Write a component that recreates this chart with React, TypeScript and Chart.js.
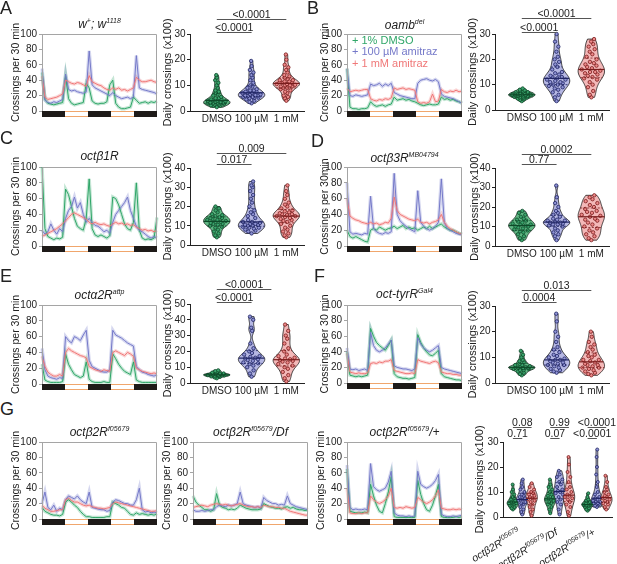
import React, { useEffect, useRef } from 'react';
import { Chart, registerables } from 'chart.js';

Chart.register(...registerables);

const FONT = '"Liberation Sans", Arial, Helvetica, sans-serif';
Chart.defaults.font.family = FONT;
Chart.defaults.color = '#222';

// ---------------- data: activity traces (crossings per 30 min, 1.5 h bins over 60 h) ----------------
const aDmso = [50,15,10,9,8,9,10,11, 46,16,10,8,9,10,11,36, 30,13,10,9,10,10,12,34, 40,10,5,3,3,4,5,18, 14,10,11,12,10,12,11,13];
const aLow = [55,14,11,10,12,11,13,15, 48,28,26,27,25,24,23,25, 78,34,30,28,26,24,22,20, 24,20,18,16,17,18,16,18, 72,30,28,27,26,25,24,22];
const aHigh = [45,18,15,16,17,18,20,22, 40,38,36,35,37,36,34,32, 46,38,36,34,33,30,28,27, 30,28,30,27,28,26,28,30, 44,40,38,38,39,40,38,37];

const bDmso = [55,5,3,3,2,3,3,4, 12,8,6,7,8,6,8,9, 18,14,15,16,14,15,13,12, 10,8,7,8,9,8,8,9, 18,15,16,14,15,13,12,10];
const bLow = [55,20,19,21,20,19,20,21, 35,33,34,36,32,35,33,36, 24,22,20,19,18,17,16,16, 36,40,41,42,40,39,41,38, 22,19,18,17,16,14,12,10];
const bHigh = [30,25,26,27,26,27,28,28, 16,14,13,15,14,16,15,17, 30,28,29,30,28,29,28,27, 12,10,11,10,12,22,12,13, 28,25,24,26,25,27,25,26];

const cDmso = [100,22,12,10,8,10,9,11, 72,65,50,35,25,22,20,35, 85,22,14,12,14,12,10,13, 62,60,52,40,28,22,20,30, 80,20,10,8,9,8,10,36];
const cLow = [20,15,18,28,20,15,22,18, 35,45,50,62,48,55,40,30, 35,30,26,25,22,18,20,16, 30,40,45,50,55,62,45,35, 25,20,18,15,12,10,12,10];
const cHigh = [12,14,16,18,20,22,25,28, 32,36,40,42,40,38,36,34, 30,28,30,28,27,28,26,25, 28,30,28,29,27,28,26,27, 24,22,20,21,19,20,18,20];

const dDmso = [20,12,10,12,10,8,6,5, 20,22,20,24,22,20,22,23, 25,22,24,26,22,24,22,23, 20,22,24,22,25,22,24,26, 28,24,22,20,20,18,16,15];
const dLow = [80,18,15,16,15,14,16,15, 63,22,18,16,15,17,16,18, 92,40,32,28,25,22,20,18, 70,30,25,22,20,22,25,30, 85,30,22,20,18,16,15,14];
const dHigh = [60,38,35,33,32,30,29,28, 30,28,29,27,28,30,29,35, 62,45,40,38,36,34,33,32, 34,30,29,30,28,30,31,33, 40,30,25,22,20,18,16,15];

const eDmso = [25,5,3,2,2,2,2,3, 38,25,18,12,10,8,10,28, 6,3,2,2,2,3,2,2, 38,32,25,20,16,14,12,28, 5,3,2,2,2,2,2,2];
const eLow = [45,18,10,8,7,6,8,7, 60,55,52,60,58,55,62,68, 30,22,20,18,16,15,15,18, 68,62,60,58,55,52,50,48, 22,18,15,14,12,11,10,12];
const eHigh = [35,22,15,12,10,10,12,10, 40,45,42,40,38,36,35,33, 22,20,18,17,16,18,17,16, 40,42,40,38,36,40,38,35, 20,18,16,15,14,13,14,13];

const fDmso = [40,10,9,8,9,8,9,10, 70,60,52,48,45,42,48,55, 12,8,7,6,6,5,6,7, 62,52,45,40,36,35,38,42, 12,8,7,6,5,4,4,3];
const fLow = [45,18,17,18,16,17,18,16, 65,48,42,40,42,45,50,55, 22,20,19,18,18,17,16,18, 58,50,45,42,40,42,45,48, 20,18,17,16,15,14,13,12];
const fHigh = [38,14,13,12,13,12,12,13, 25,26,25,27,26,28,28,30, 16,15,14,13,12,12,13,12, 30,28,27,26,25,27,28,26, 14,13,12,12,11,11,10,10];

const g1Dmso = [15,10,8,6,5,5,4,6, 22,25,22,18,15,10,6,3, 3,2,2,2,2,2,3,3, 22,20,18,15,14,10,6,5, 8,6,7,6,5,6,5,7];
const g1Low = [20,35,15,12,18,10,14,12, 25,30,28,26,30,25,22,20, 35,15,14,13,12,12,10,11, 22,25,24,22,20,20,18,18, 25,40,12,9,10,8,9,8];
const g1High = [18,14,12,10,10,11,12,12, 25,27,24,22,22,20,18,17, 18,16,15,14,14,13,14,15, 20,22,21,20,19,18,17,16, 15,14,13,12,11,10,10,11];

const g2Dmso = [30,22,18,15,12,12,10,12, 33,18,15,14,12,13,12,14, 18,16,14,13,12,12,12,13, 20,18,16,15,14,14,13,15, 16,14,15,13,12,12,11,12];
const g2Low = [12,10,10,11,10,11,12,12, 16,18,17,16,18,17,18,20, 35,20,18,17,16,15,16,14, 28,24,22,20,20,18,19,18, 30,20,18,16,15,14,13,12];
const g2High = [15,16,17,18,17,16,18,19, 20,19,18,19,18,17,18,19, 20,18,17,16,16,15,16,15, 18,17,16,16,15,15,14,14, 12,10,9,8,7,6,5,5];

const g3Dmso = [65,10,9,8,8,8,9,8, 45,30,18,10,8,20,35,55, 3,2,2,2,2,2,2,2, 50,32,20,12,10,18,30,45, 3,2,2,2,2,3,2,3];
const g3Low = [70,15,12,13,12,12,13,12, 72,42,38,36,38,40,48,62, 8,5,4,4,3,4,3,4, 62,45,42,40,42,45,50,58, 6,4,3,3,4,3,4,5];
const g3High = [40,8,7,7,8,7,8,8, 30,25,22,20,22,25,30,40, 15,14,15,14,16,15,14,15, 28,25,22,20,22,25,30,38, 14,13,12,12,13,12,13,12];

// ---------------- data: daily crossings (x100), individual flies ----------------
const aDmsoDaily = [1.5,2,2,2.2,2.5,2.5,2.8,3,3,3,3.2,3.3,3.5,3.5,3.8,4,4,4.2,4.5,4.5,5,5,5.5,6,6.5,7,7.5,8,9,10,11,12,13,14];
const aLowDaily = [3,3.5,4,4.5,5,5,5.2,5.5,5.5,5.8,6,6,6.2,6.5,6.5,7,7,7.2,7.5,7.5,8,8,8.5,9,9.5,10,11,12,13,14,15,16,17.5,19.5];
const aHighDaily = [4,5,5.5,6,7,7.5,8,8.5,9,9,9.5,9.5,10,10,10.2,10.5,10.5,11,11,11.2,11.5,11.5,12,12,12.5,13,13.5,14,15,16,17,18,20,22];

const bDmsoDaily = [3.5,4,4.2,4.5,4.8,5,5,5.2,5.3,5.5,5.5,5.7,5.8,6,6,6,6.2,6.3,6.5,6.5,6.7,6.8,7,7,7.2,7.5,7.8,8,8.5];
const bLowDaily = [3.5,5,6,7,8,8.5,9,9.5,10,10,10.5,11,11,11.5,12,12,12.5,13,13,13.5,14,14.5,15,16,17,18,19,20,21,23,25,27,30];
const bHighDaily = [5,6,7.5,9,10,11,12,12.5,13,13.5,14,14.5,15,15,15.5,16,16.5,17,17.5,18,18.5,19,20,21,22,23,24,25,26,27,28];

const cDmsoDaily = [4,5,6,7,8,9,9.5,10,10.5,11,11,11.5,12,12,12.5,13,13,13.5,14,14,14.5,15,15.5,16,17,18,19,20];
const cLowDaily = [6,7,7.5,8,8.5,9,9,9.5,10,10,10.5,10.5,11,11,11.5,12,12,13,14,15,16,17,18,20,22,24,26,28,30,31,33];
const cHighDaily = [4,5,6,7,8,9,10,11,12,12.5,13,13.5,14,14.5,15,15,15.5,16,16,16.5,17,17.5,18,19,20,21,22,24,26,28,31];

const dDmsoDaily = [3,4,5,6,7,7.5,8,8.5,9,9.5,10,10,10.5,11,11,11.5,12,12.5,13,13.5,14,15,16,17,18];
const dLowDaily = [3,5,6,7,8,9,10,10.5,11,11,11.5,12,12,12.5,13,13,13.5,14,15,16,17,18,20,22,25,31];
const dHighDaily = [3,4,5,6,7,8,9,10,11,12,13,13.5,14,15,15.5,16,17,17.5,18,19,20,21,22,23,24,25,26];

const eDmsoDaily = [3,3.5,4,4.2,4.5,4.5,4.8,5,5,5.2,5.5,5.5,5.8,6,6,6.5,7,7.5,8];
const eLowDaily = [4,6,8,10,11,12,12.5,13,14,14.5,15,15.5,16,16.5,17,18,19,20,22,25,33,35,40,42];
const eHighDaily = [1,3,5,7,9,10,11,12,13,13.5,14,14.5,15,15.5,16,17,18,20,22,25,28,30,33,37];

const fDmsoDaily = [3,3.5,4,4.5,5,5,5.5,5.5,5.8,6,6,6,6.2,6.5,6.5,7,7,7.5,8,8.5,9,10,11,12.5];
const fLowDaily = [4,4.5,5,5.5,6,6.5,7,7,7.5,8,8,8.5,9,9,9.5,10,10.5,11,12,13,14,16,18,20,24,27];
const fHighDaily = [3,3.5,4,4.5,5,5.5,6,6,6.5,7,7,7.5,8,8.5,9,9,10,10.5,11,12,13,14,15,16,18,20];

const g1DmsoDaily = [3,3.5,4,4.5,5,5,5.5,5.5,6,6,6.5,7,7.5,8,9,10,11,13];
const g1LowDaily = [1,2,3,4,5,5.5,6,6.5,7,7,7.5,8,8.5,9,10,11,12,13.5,15];
const g1HighDaily = [0.5,2,3,4,5,6,6.5,7,7.5,8,8.5,9,9.5,10,11,12,13.5];
const g2DmsoDaily = [1.5,3,4,5,5.5,6,6.5,7,7,7.5,8,8.5,9,10,11,12,13,15];
const g2LowDaily = [1,3,5,6,7,8,9,9.5,10,10.5,11,12,13,14,15,16,17,18.5];
const g2HighDaily = [0.5,2,4,5,6,7,7.5,8,8.5,9,10,11,12,14,16,18,21,24];
const g3DmsoDaily = [2.5,3,3.5,4,4.5,4.5,5,5,5.5,5.5,6,6.5,7,8,9.5];
const g3LowDaily = [4,4.5,5,5.5,5.5,6,6,6.5,7,7.5,8,9,10,12,14,17,20,24,27];
const g3HighDaily = [3,4,5,5.5,6,6.5,7,7.5,8,8.5,9,10,11,12,14,16.5];

// ---------------- labels ----------------
const LIGHT_DARK = ['dark', 'light', 'dark', 'light', 'dark'];
const TREATMENTS = ['1% DMSO', '100 µM amitraz', '1 mM amitraz'];
const DOSE_LABELS = ['DMSO', '100 µM', '1 mM'];
const P_A = ['<0.0001', '<0.0001'];
const P_B = ['<0.0001', '<0.0001'];
const P_C = ['0.009', '0.017'];
const P_D = ['0.0002', '0.77'];
const P_E = ['<0.0001', '<0.0001'];
const P_F = ['0.013', '0.0004'];
const P_G = ['0.08', '0.71', '0.99', '0.07', '<0.0001', '<0.0001'];
const G_GENOTYPES: [string, boolean][][] = [
  [['octβ2R', false], ['f05679', true]],
  [['octβ2R', false], ['f05679', true], ['/Df', false]],
  [['octβ2R', false], ['f05679', true], ['/+', false]],
];

// ---------------- styles ----------------
const SERIES_COLORS = ['#2fa668', '#7579c9', '#f07878'];
const BAND_COLORS = ['rgba(47,166,104,0.28)', 'rgba(117,121,201,0.3)', 'rgba(240,120,120,0.3)'];
const VIOLIN_STYLE = [
  { fill: 'rgba(70,172,112,0.85)', dot: '#3ba56d', edge: '#0e4a29' },
  { fill: '#b5b7e3', dot: '#8f93d4', edge: '#1d2262' },
  { fill: '#f3b8b8', dot: '#ee8a8a', edge: '#7a1c1c' },
];

type Box = { x: number; y: number; w: number; h: number };

function vdc(n: number) {
  let v = 0, d = 1;
  while (n > 0) { d *= 2; v += (n % 2) / d; n = Math.floor(n / 2); }
  return v;
}

function violinStats(values: number[]) {
  const s = [...values].sort((a, b) => a - b);
  const n = s.length;
  const q = (p: number) => { const i = (n - 1) * p; const lo = Math.floor(i), hi = Math.ceil(i); return s[lo] + (s[hi] - s[lo]) * (i - lo); };
  const mean = s.reduce((a, b) => a + b, 0) / n;
  const sd = Math.sqrt(s.reduce((a, b) => a + (b - mean) ** 2, 0) / (n - 1));
  const iqr = q(0.75) - q(0.25);
  const spread = Math.min(sd, iqr > 0 ? iqr / 1.34 : sd);
  const h = 0.9 * spread * Math.pow(n, -0.2) * 0.8;
  const lo = s[0], hi = s[n - 1];
  const K = 60;
  const ys: number[] = [], ds: number[] = [];
  for (let k = 0; k <= K; k++) {
    const y = lo + ((hi - lo) * k) / K;
    let d = 0;
    s.forEach((v) => { d += Math.exp(-0.5 * ((y - v) / h) ** 2); });
    ys.push(y); ds.push(d);
  }
  const mx = Math.max(...ds);
  for (let k = 0; k <= K; k++) ds[k] /= mx;
  const densAt = (y: number) => {
    if (hi === lo) return 1;
    const f = ((y - lo) / (hi - lo)) * K;
    const i = Math.max(0, Math.min(K - 1, Math.floor(f)));
    const t = f - i;
    return ds[i] * (1 - t) + ds[i + 1] * t;
  };
  return { sorted: s, ys, ds, densAt, med: q(0.5), q1: q(0.25), q3: q(0.75) };
}

// ---------------- plugins ----------------
const framePlugin = {
  id: 'frameAndPhotoperiod',
  afterDraw(chart: any) {
    const { ctx, chartArea } = chart;
    const left = Math.round(chartArea.left), top = Math.round(chartArea.top);
    const right = Math.round(chartArea.right), bottom = Math.round(chartArea.bottom);
    ctx.save();
    ctx.strokeStyle = '#a5a5a5';
    ctx.lineWidth = 1;
    ctx.beginPath();
    ctx.moveTo(left + 0.5, bottom);
    ctx.lineTo(left + 0.5, top + 0.5);
    ctx.lineTo(right - 0.5, top + 0.5);
    ctx.lineTo(right - 0.5, bottom);
    ctx.stroke();
    const xs = chart.scales.x;
    const n = LIGHT_DARK.length;
    const y0 = bottom, hgt = 6;
    ctx.fillStyle = '#ffffff';
    ctx.fillRect(left, y0, right - left, hgt);
    ctx.strokeStyle = '#f0a66c';
    ctx.strokeRect(left + 0.5, y0 + 0.5, right - left - 1, hgt - 1);
    LIGHT_DARK.forEach((phase, i) => {
      const x0 = Math.round(xs.getPixelForDecimal(i / n));
      const x1 = Math.round(xs.getPixelForDecimal((i + 1) / n));
      if (phase === 'dark') {
        ctx.fillStyle = '#1e1a18';
        ctx.fillRect(x0, y0, x1 - x0, hgt);
      }
    });
    ctx.restore();
  },
};

const legendPlugin = {
  id: 'inlineLegend',
  afterDraw(chart: any) {
    const { ctx, chartArea } = chart;
    ctx.save();
    ctx.font = `11px ${FONT}`;
    ctx.textBaseline = 'middle';
    ctx.textAlign = 'left';
    TREATMENTS.forEach((t, i) => {
      ctx.fillStyle = SERIES_COLORS[i];
      ctx.fillText('+ ' + t, chartArea.left + 5, chartArea.top + 6.5 + i * 11.5);
    });
    ctx.restore();
  },
};

function sigPlugin(items: { a: number; b: number; dy: number; text: string }[]) {
  return {
    id: 'sigBars',
    afterDraw(chart: any) {
      const { ctx, chartArea, scales } = chart;
      const x = scales.x;
      ctx.save();
      ctx.font = `10.5px ${FONT}`;
      ctx.fillStyle = '#222';
      ctx.strokeStyle = '#555';
      ctx.lineWidth = 1;
      ctx.textAlign = 'center';
      ctx.textBaseline = 'alphabetic';
      items.forEach((it) => {
        const x0 = x.getPixelForValue(it.a), x1 = x.getPixelForValue(it.b);
        const yy = Math.round(chartArea.top + it.dy) + 0.5;
        ctx.beginPath();
        ctx.moveTo(x0, yy);
        ctx.lineTo(x1, yy);
        ctx.stroke();
        ctx.fillText(it.text, (x0 + x1) / 2, yy - 1.5);
      });
      ctx.restore();
    },
  };
}

function violinPlugin(groups: any[], hw: number) {
  return {
    id: 'violins',
    beforeDatasetsDraw(chart: any) {
      const { ctx, scales } = chart;
      const x = scales.x, y = scales.y;
      groups.forEach((g) => {
        const { ys, ds } = g.st;
        ctx.save();
        ctx.beginPath();
        ys.forEach((v: number, k: number) => {
          const px = x.getPixelForValue(g.at + hw * ds[k]);
          const py = y.getPixelForValue(v);
          if (k === 0) ctx.moveTo(px, py); else ctx.lineTo(px, py);
        });
        for (let k = ys.length - 1; k >= 0; k--) {
          ctx.lineTo(x.getPixelForValue(g.at - hw * ds[k]), y.getPixelForValue(ys[k]));
        }
        ctx.closePath();
        ctx.fillStyle = g.style.fill;
        ctx.fill();
        ctx.strokeStyle = '#1a1a1a';
        ctx.lineWidth = 0.8;
        ctx.stroke();
        ctx.restore();
      });
    },
    afterDatasetsDraw(chart: any) {
      const { ctx, scales } = chart;
      const x = scales.x, y = scales.y;
      groups.forEach((g) => {
        const lines = [
          { v: g.st.med, dash: [], w: 1.2 },
          { v: g.st.q1, dash: [2, 1.5], w: 0.8 },
          { v: g.st.q3, dash: [2, 1.5], w: 0.8 },
        ];
        lines.forEach((ln) => {
          const half = hw * g.st.densAt(ln.v);
          ctx.save();
          ctx.strokeStyle = g.style.edge;
          ctx.lineWidth = ln.w;
          ctx.setLineDash(ln.dash);
          ctx.beginPath();
          const py = y.getPixelForValue(ln.v);
          ctx.moveTo(x.getPixelForValue(g.at - half), py);
          ctx.lineTo(x.getPixelForValue(g.at + half), py);
          ctx.stroke();
          ctx.restore();
        });
      });
    },
  };
}

function rotatedLabelPlugin(items: [string, boolean][][], at: number[]) {
  return {
    id: 'rotatedLabels',
    afterDraw(chart: any) {
      const { ctx, chartArea, scales } = chart;
      const x = scales.x;
      const mainFont = `italic 10.5px ${FONT}`;
      const supFont = `italic 7px ${FONT}`;
      items.forEach((parts, i) => {
        const px = x.getPixelForValue(at[i]) - 1;
        const py = chartArea.bottom + 17;
        ctx.save();
        ctx.translate(px, py);
        ctx.rotate((-31 * Math.PI) / 180);
        ctx.fillStyle = '#222';
        ctx.textBaseline = 'alphabetic';
        ctx.textAlign = 'left';
        let total = 0;
        parts.forEach(([t, sup]) => { ctx.font = sup ? supFont : mainFont; total += ctx.measureText(t).width; });
        let cx = -total;
        parts.forEach(([t, sup]) => {
          ctx.font = sup ? supFont : mainFont;
          ctx.fillText(t, cx, sup ? -4.5 : 0);
          cx += ctx.measureText(t).width;
        });
        ctx.restore();
      });
    },
  };
}

// ---------------- chart configs ----------------
type LineSpec = { series: number[][]; area: [number, number, number, number]; titleX: number; yTitle: string; legend?: boolean };

function lineBox(s: LineSpec): Box {
  const [, t, r, b] = s.area;
  const x = s.titleX - 9;
  const y = t - 20;
  return { x, y, w: r + 3 - x, h: b + 14 - y };
}

function lineConfig(s: LineSpec, box: Box) {
  const [l, t, r, b] = s.area;
  const labels = s.series[0].map((_, i) => String(i));
  const datasets: any[] = [];
  s.series.forEach((d, i) => datasets.push({ data: d, borderColor: BAND_COLORS[i], borderWidth: 3.4, pointRadius: 0, tension: 0, order: 10, fill: false }));
  s.series.forEach((d, i) => datasets.push({ label: TREATMENTS[i], data: d, borderColor: SERIES_COLORS[i], borderWidth: 1, pointRadius: 0, tension: 0, order: 3 - i, fill: false }));
  const titleSize = 10.5;
  const pad = s.titleX - box.x - (titleSize * 1.2) / 2;
  const plugins: any[] = [framePlugin];
  if (s.legend) plugins.push(legendPlugin);
  return {
    type: 'line',
    data: { labels, datasets },
    options: {
      responsive: false,
      animation: false,
      events: [],
      layout: { padding: { left: 0, top: t - box.y, right: box.x + box.w - r, bottom: 0 } },
      plugins: { legend: { display: false }, tooltip: { enabled: false } },
      scales: {
        x: {
          display: true,
          offset: false,
          ticks: { display: false },
          grid: { display: false, drawTicks: false },
          border: { display: false },
          afterFit: (sc: any) => { sc.height = box.y + box.h - b; },
        },
        y: {
          min: 0,
          max: 100,
          ticks: { stepSize: 20, font: { size: 10 }, color: '#222', padding: 2 },
          grid: { drawOnChartArea: false, tickLength: 3, color: '#a5a5a5' },
          border: { color: '#a5a5a5' },
          title: { display: true, text: s.yTitle, font: { size: titleSize }, color: '#222', padding: { top: pad, bottom: 0 } },
          afterFit: (sc: any) => { sc.width = l - box.x; },
        },
      },
    },
    plugins,
  };
}

type ViolinSpec = {
  area: [number, number, number, number];
  titleX: number;
  top: number;
  bottom: number;
  xr: [number, number];
  ymax: number;
  groups: { at: number; values: number[]; style: any }[];
  ticksAt: number[];
  tickLabels: string[];
  sig: { a: number; b: number; dy: number; text: string }[];
  hw: number;
  dotR: number;
  rotated?: boolean;
};

function violinBox(s: ViolinSpec): Box {
  const x = s.titleX - 9;
  const right = Math.min(617, s.area[2] + 4);
  return { x, y: s.top, w: right - x, h: s.bottom - s.top };
}

function violinConfig(s: ViolinSpec, box: Box) {
  const [l, t, r, b] = s.area;
  const groups = s.groups.map((g) => ({ ...g, st: violinStats(g.values) }));
  const datasets = groups.map((g) => ({
    data: g.st.sorted.map((v: number, i: number) => ({ x: g.at + (2 * vdc(i + 1) - 1) * s.hw * 0.78 * g.st.densAt(v), y: v })),
    pointRadius: s.dotR,
    backgroundColor: g.style.dot,
    borderColor: g.style.edge,
    borderWidth: 0.8,
    clip: false,
  }));
  const titleSize = 11;
  const pad = s.titleX - box.x - (titleSize * 1.2) / 2;
  const plugins: any[] = [violinPlugin(groups, s.hw), sigPlugin(s.sig)];
  if (s.rotated) plugins.push(rotatedLabelPlugin(G_GENOTYPES, s.ticksAt));
  return {
    type: 'scatter',
    data: { datasets },
    options: {
      responsive: false,
      animation: false,
      events: [],
      layout: { padding: { left: 0, top: t - box.y, right: box.x + box.w - r, bottom: 0 } },
      plugins: { legend: { display: false }, tooltip: { enabled: false } },
      scales: {
        x: {
          type: 'linear',
          min: s.xr[0],
          max: s.xr[1],
          afterBuildTicks: (sc: any) => { sc.ticks = s.ticksAt.map((v) => ({ value: v })); },
          ticks: {
            display: !s.rotated,
            autoSkip: false,
            maxRotation: 0,
            font: { size: 10 },
            color: '#222',
            padding: 2,
            callback: (v: number) => { const i = s.ticksAt.indexOf(v); return i >= 0 ? s.tickLabels[i] : ''; },
          },
          grid: { display: false, drawTicks: false, tickLength: 0 },
          border: { color: '#222' },
          afterFit: (sc: any) => { sc.height = box.y + box.h - b; },
        },
        y: {
          min: 0,
          max: s.ymax,
          ticks: { stepSize: 10, font: { size: 10 }, color: '#222', padding: 1.5 },
          grid: { drawOnChartArea: false, tickLength: 3, color: '#222' },
          border: { color: '#222' },
          title: { display: true, text: 'Daily crossings (x100)', font: { size: titleSize }, color: '#222', padding: { top: pad, bottom: 0 } },
          afterFit: (sc: any) => { sc.width = l - box.x; },
        },
      },
    },
    plugins,
  };
}

// ---------------- panel specs ----------------
const LINE_SPECS: LineSpec[] = [
  { series: [aDmso, aLow, aHigh], area: [42, 34, 157, 111], titleX: 16, yTitle: 'Crossings per 30 min' },
  { series: [bDmso, bLow, bHigh], area: [347, 34, 462, 111], titleX: 325, yTitle: 'Crossings per 30 min', legend: true },
  { series: [cDmso, cLow, cHigh], area: [42, 167, 157, 246], titleX: 16, yTitle: 'Crossings per 30 min' },
  { series: [dDmso, dLow, dHigh], area: [347, 167, 462, 246], titleX: 325, yTitle: 'Crossings per 30min' },
  { series: [eDmso, eLow, eHigh], area: [42, 305, 157, 384], titleX: 16, yTitle: 'Crossings per 30 min' },
  { series: [fDmso, fLow, fHigh], area: [347, 305, 462, 383], titleX: 325, yTitle: 'Crossings per 30 min' },
  { series: [g1Dmso, g1Low, g1High], area: [42, 442, 157, 519], titleX: 16, yTitle: 'Crossings per 30 min' },
  { series: [g2Dmso, g2Low, g2High], area: [193, 442, 308, 519], titleX: 167, yTitle: 'Crossings per 30 min' },
  { series: [g3Dmso, g3Low, g3High], area: [347, 442, 462, 519], titleX: 321, yTitle: 'Crossings per 30 min' },
];

const three = (d: number[], l: number[], h: number[]) => [
  { at: 0, values: d, style: VIOLIN_STYLE[0] },
  { at: 1, values: l, style: VIOLIN_STYLE[1] },
  { at: 2, values: h, style: VIOLIN_STYLE[2] },
];
const XR3: [number, number] = [-0.771, 2.514];

const VIOLIN_SPECS: ViolinSpec[] = [
  { area: [190, 34, 305, 111], titleX: 168, top: 0, bottom: 128, xr: XR3, ymax: 30, groups: three(aDmsoDaily, aLowDaily, aHighDaily), ticksAt: [0, 1, 2], tickLabels: DOSE_LABELS, hw: 0.38, dotR: 1.7,
    sig: [{ a: 0, b: 2, dy: -15, text: P_A[0] }, { a: 0, b: 1, dy: -2, text: P_A[1] }] },
  { area: [495, 34, 610, 110], titleX: 473, top: 0, bottom: 128, xr: XR3, ymax: 30, groups: three(bDmsoDaily, bLowDaily, bHighDaily), ticksAt: [0, 1, 2], tickLabels: DOSE_LABELS, hw: 0.38, dotR: 1.7,
    sig: [{ a: 0, b: 2, dy: -16, text: P_B[0] }, { a: 0, b: 1, dy: -2, text: P_B[1] }] },
  { area: [190, 168, 305, 245], titleX: 168, top: 138, bottom: 264, xr: XR3, ymax: 40, groups: three(cDmsoDaily, cLowDaily, cHighDaily), ticksAt: [0, 1, 2], tickLabels: DOSE_LABELS, hw: 0.38, dotR: 1.7,
    sig: [{ a: 0, b: 2, dy: -15, text: P_C[0] }, { a: 0, b: 1, dy: -4, text: P_C[1] }] },
  { area: [495, 168, 610, 246], titleX: 475, top: 138, bottom: 264, xr: XR3, ymax: 40, groups: three(dDmsoDaily, dLowDaily, dHighDaily), ticksAt: [0, 1, 2], tickLabels: DOSE_LABELS, hw: 0.38, dotR: 1.7,
    sig: [{ a: 0, b: 2, dy: -14, text: P_D[0] }, { a: 0, b: 1, dy: -4, text: P_D[1] }] },
  { area: [190, 304, 305, 383], titleX: 168, top: 276, bottom: 402, xr: XR3, ymax: 50, groups: three(eDmsoDaily, eLowDaily, eHighDaily), ticksAt: [0, 1, 2], tickLabels: DOSE_LABELS, hw: 0.38, dotR: 1.7,
    sig: [{ a: 0, b: 1.57, dy: -15, text: P_E[0] }, { a: 0, b: 1, dy: -2, text: P_E[1] }] },
  { area: [495, 306, 610, 383], titleX: 473, top: 276, bottom: 402, xr: XR3, ymax: 30, groups: three(fDmsoDaily, fLowDaily, fHighDaily), ticksAt: [0, 1, 2], tickLabels: DOSE_LABELS, hw: 0.38, dotR: 1.7,
    sig: [{ a: 0, b: 2, dy: -16, text: P_F[0] }, { a: 0, b: 1, dy: -4, text: P_F[1] }] },
  { area: [503, 442, 613, 517], titleX: 480, top: 412, bottom: 564, xr: [-1.064, 10.64], ymax: 30,
    groups: [
      { at: 0, values: g1DmsoDaily, style: VIOLIN_STYLE[0] },
      { at: 1, values: g1LowDaily, style: VIOLIN_STYLE[1] },
      { at: 2, values: g1HighDaily, style: VIOLIN_STYLE[2] },
      { at: 4, values: g2DmsoDaily, style: VIOLIN_STYLE[0] },
      { at: 5, values: g2LowDaily, style: VIOLIN_STYLE[1] },
      { at: 6, values: g2HighDaily, style: VIOLIN_STYLE[2] },
      { at: 8, values: g3DmsoDaily, style: VIOLIN_STYLE[0] },
      { at: 9, values: g3LowDaily, style: VIOLIN_STYLE[1] },
      { at: 10, values: g3HighDaily, style: VIOLIN_STYLE[2] },
    ],
    ticksAt: [1, 5, 9], tickLabels: ['', '', ''], hw: 0.62, dotR: 1.5, rotated: true,
    sig: [
      { a: 0, b: 2, dy: -15, text: P_G[0] }, { a: 0, b: 1, dy: -4, text: P_G[1] },
      { a: 4, b: 6, dy: -15, text: P_G[2] }, { a: 4, b: 5, dy: -4, text: P_G[3] },
      { a: 8, b: 10, dy: -15, text: P_G[4] }, { a: 8, b: 9, dy: -4, text: P_G[5] },
    ] },
];

// ---------------- components ----------------
function ChartCanvas({ box, make }: { box: Box; make: () => any }) {
  const ref = useRef<HTMLCanvasElement | null>(null);
  useEffect(() => {
    if (!ref.current) return;
    const chart = new Chart(ref.current, make());
    return () => chart.destroy();
  }, []);
  return (
    <canvas
      ref={ref}
      width={box.w}
      height={box.h}
      style={{ position: 'absolute', left: box.x, top: box.y, width: box.w, height: box.h }}
    />
  );
}

const Sup = ({ children }: { children: React.ReactNode }) => (
  <span style={{ fontSize: 7, position: 'relative', top: -5 }}>{children}</span>
);

const TITLES: { x: number; base: number; node: React.ReactNode }[] = [
  { x: 99.5, base: 28, node: <>w<Sup>+</Sup>; w<Sup>1118</Sup></> },
  { x: 404.5, base: 29, node: <>oamb<Sup>del</Sup></> },
  { x: 99.5, base: 160, node: <>octβ1R</> },
  { x: 404.5, base: 162, node: <>octβ3R<Sup>MB04794</Sup></> },
  { x: 99.5, base: 299, node: <>octα2R<Sup>attp</Sup></> },
  { x: 404.5, base: 298, node: <>oct-tyrR<Sup>Gal4</Sup></> },
  { x: 99.5, base: 436, node: <>octβ2R<Sup>f05679</Sup></> },
  { x: 250.5, base: 436, node: <>octβ2R<Sup>f05679</Sup>/Df</> },
  { x: 404.5, base: 436, node: <>octβ2R<Sup>f05679</Sup>/+</> },
];

const LETTERS = [
  { t: 'A', x: 0, y: -2 },
  { t: 'B', x: 307, y: -2 },
  { t: 'C', x: 0, y: 128 },
  { t: 'D', x: 311, y: 131 },
  { t: 'E', x: 0, y: 266 },
  { t: 'F', x: 314, y: 266 },
  { t: 'G', x: 0, y: 399 },
];

export default function App() {
  return (
    <div style={{ position: 'absolute', left: 0, top: 0, width: 617, height: 564, background: '#fff', fontFamily: FONT, color: '#222', overflow: 'hidden' }}>
      {LINE_SPECS.map((s, i) => {
        const box = lineBox(s);
        return <ChartCanvas key={'l' + i} box={box} make={() => lineConfig(s, box)} />;
      })}
      {VIOLIN_SPECS.map((s, i) => {
        const box = violinBox(s);
        return <ChartCanvas key={'v' + i} box={box} make={() => violinConfig(s, box)} />;
      })}
      {TITLES.map((t, i) => (
        <div key={'t' + i} style={{ position: 'absolute', left: t.x, top: t.base - 10, transform: 'translateX(-50%)', fontStyle: 'italic', fontSize: 12, lineHeight: '12px', whiteSpace: 'nowrap' }}>
          {t.node}
        </div>
      ))}
      {LETTERS.map((l) => (
        <div key={l.t} style={{ position: 'absolute', left: l.x, top: l.y, fontSize: 18, lineHeight: 'normal' }}>{l.t}</div>
      ))}
    </div>
  );
}
